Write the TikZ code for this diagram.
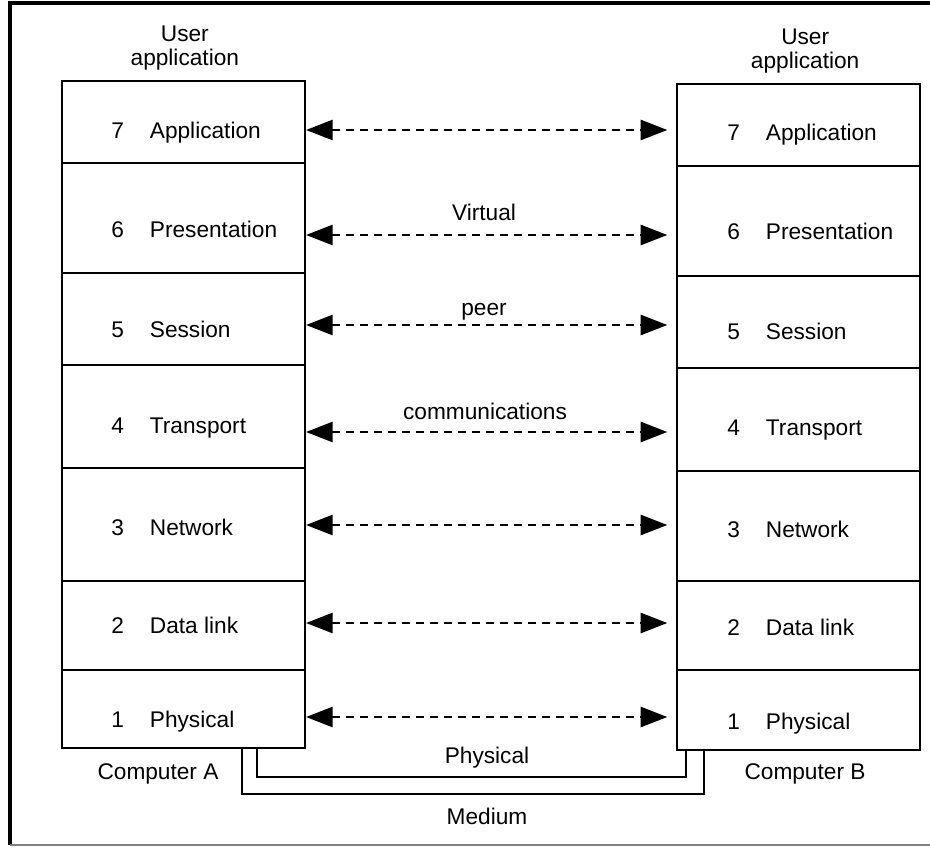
\documentclass[tikz,border=0pt]{standalone}
\usepackage{fontspec}
\setmainfont{Liberation Sans}
\usetikzlibrary{positioning,calc,arrows.meta}

\begin{document}
\begin{tikzpicture}[
    x=0.75pt, y=-0.75pt,
    every node/.style = {
      font=\fontsize{17}{17.5}\selectfont,
      align=center
    },
    layerbox/.style = {draw, line width=1.5pt, minimum width=182.25pt, inner sep=0pt},
    layertext/.style = {anchor=west, inner sep=0pt},
    peerlink/.style = {
      line width=2pt, dash pattern=on 6pt off 4.5pt, shorten >=6.5pt,
      {Triangle[length=20pt,width=15pt]}-{Triangle[length=20pt,width=15pt]}
    },
    medium/.style = {line width=1.5pt},
    frame/.style = {line width=2.5pt}
  ]
    \useasboundingbox (0,0) rectangle (930,848);
    % Frame
    \draw[frame] (930,3) -- (10,3) -- (10,845);
    \draw[gray, line width=1pt] (10,845) -- (930,845);

    % Layers of both computers
    \foreach \n/\t/\a/\b/\c/\d/\ty/\ay in {
        7/Application/81/163/84/166/133/130,
        6/Presentation/163/273/166/276/229/235,
        5/Session/273/365/276/368/329/325,
        4/Transport/365/468/368/471/428/432,
        3/Network/468/581/471/581/527/525,
        2/Data link/581/670/581/670/625/623,
        1/Physical/670/748/670/750/722/717} {
      \node[layerbox, minimum height={(\b-\a)*0.75pt}] (A\n) at (183.5,{(\a+\b)/2}) {};
      \node[layerbox, minimum height={(\d-\c)*0.75pt}] (B\n) at (798.5,{(\c+\d)/2}) {};
      \node[layertext] (tA\n) at (111,\ty) {\makebox[29pt][l]{\n}\t};
      \node[layertext] (tB\n) at (727,{\ty+2}) {\makebox[29pt][l]{\n}\t};
      \coordinate (p\n) at (490,\ay);
      \draw[peerlink] (A\n.east |- p\n) -- (B\n.west |- p\n);
    }

    % Labels
    \node[above=4pt of A7, xshift=1pt] (userA) {User\\application};
    \node[above=4pt of B7, xshift=5pt] (userB) {User\\application};
    \node (virtual) at (484,212) {Virtual};
    \node (peer) at (484,312) {peer};
    \node (comms) at (485,411) {communications};
    \node (compA) at (158,774) {Computer A};
    \node (compB) at (805,774) {Computer B};

    % Physical medium
    \draw[medium] ($(A1.south)+(73.5,0)$) -- ++(0,28) -| ($(B1.south)+(-112.5,0)$);
    \draw[medium] ($(A1.south)+(58.5,0)$) -- ++(0,45) -| ($(B1.south)+(-94.5,0)$);
    \node (phys) at (487,758) {Physical};
    \node (medium) at (487,816) {Medium};
  \end{tikzpicture}
\end{document}
